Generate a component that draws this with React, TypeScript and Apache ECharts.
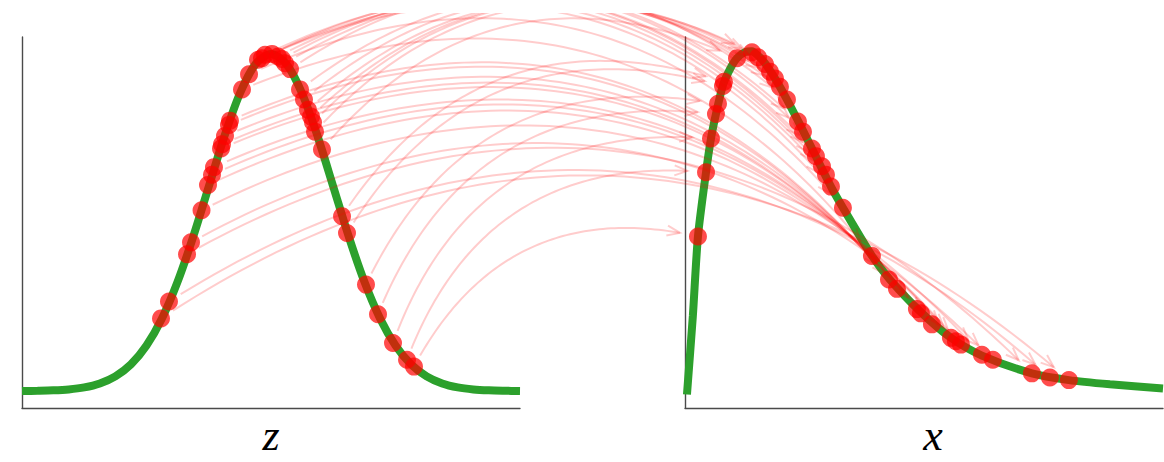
import React, { useEffect, useRef } from "react";
import * as echarts from "echarts";

// ---- left panel: density of z ----
const zGrid = [-4, -3.75, -3.5, -3.25, -3, -2.75, -2.5, -2.25, -2, -1.75, -1.5, -1.25, -1, -0.75, -0.5, -0.25, 0,
  0.25, 0.5, 0.75, 1, 1.25, 1.5, 1.75, 2, 2.25, 2.5, 2.75, 3, 3.25, 3.5, 3.75, 4];
const zDensity = [0.0001, 0.0004, 0.0009, 0.002, 0.0044, 0.0091, 0.0175, 0.0317, 0.054, 0.0863, 0.1295, 0.1826, 0.242,
  0.3011, 0.3521, 0.3867, 0.3989, 0.3867, 0.3521, 0.3011, 0.242, 0.1826, 0.1295, 0.0863, 0.054, 0.0317, 0.0175, 0.0091,
  0.0044, 0.002, 0.0009, 0.0004, 0.0001];

// ---- right panel: density of x ----
const xGrid = [0.03, 0.12, 0.198, 0.321, 0.397, 0.473, 0.58, 0.687, 0.794, 0.916, 1.023, 1.115, 1.221, 1.374, 1.557,
  1.725, 1.939, 2.229, 2.412, 2.855, 3.13, 3.588, 4.061, 4.534, 5.298, 5.863, 6.489, 7.3];
const xDensity = [-0.004, 0.089, 0.183, 0.259, 0.299, 0.328, 0.362, 0.381, 0.394, 0.401, 0.402, 0.397, 0.388, 0.37,
  0.345, 0.32, 0.287, 0.242, 0.217, 0.16, 0.132, 0.0945, 0.063, 0.042, 0.021, 0.013, 0.008, 0.003];

// ---- samples (z sorted ascending, x sorted ascending) ----
const zSamples = [-1.767, -1.639, -1.349, -1.285, -1.116, -1.012, -0.948, -0.916, -0.803, -0.787, -0.739, -0.675,
  -0.659, -0.466, -0.353, -0.209, -0.145, -0.096, 0.016, 0.112, 0.177, 0.225, 0.305, 0.466, 0.53, 0.594, 0.643, 0.675,
  0.707, 0.819, 1.141, 1.221, 1.526, 1.719, 1.96, 2.185, 2.297];
const zSampleDensity = [0.086, 0.106, 0.162, 0.176, 0.214, 0.244, 0.256, 0.265, 0.287, 0.292, 0.302, 0.315, 0.32,
  0.357, 0.375, 0.392, 0.394, 0.398, 0.399, 0.396, 0.393, 0.388, 0.381, 0.357, 0.345, 0.333, 0.325, 0.318, 0.307,
  0.286, 0.207, 0.187, 0.126, 0.091, 0.057, 0.037, 0.029];
const xSamples = [0.198, 0.321, 0.397, 0.473, 0.504, 0.58, 0.595, 0.794, 1.023, 1.115, 1.221, 1.298, 1.374, 1.45,
  1.557, 1.725, 1.802, 1.939, 2.0, 2.092, 2.153, 2.229, 2.412, 2.855, 3.115, 3.237, 3.542, 3.603, 3.771, 4.061, 4.137,
  4.214, 4.534, 4.702, 5.298, 5.573, 5.863];
const xSampleDensity = [0.183, 0.259, 0.299, 0.328, 0.34, 0.361, 0.366, 0.394, 0.401, 0.395, 0.387, 0.378, 0.37, 0.36,
  0.345, 0.319, 0.307, 0.287, 0.278, 0.266, 0.256, 0.242, 0.217, 0.16, 0.132, 0.121, 0.097, 0.092, 0.079, 0.063, 0.059,
  0.055, 0.043, 0.037, 0.021, 0.016, 0.013];

const axisNames = ["z", "x"];

const GREEN = "#2ca02c";
const SPINE = "#4a4a4a";
const ARROW = "rgba(255,0,0,0.2)";
const RAD = 0.38;
const SHRINK_A = 12;
const SHRINK_B = 18;
const HEAD_L = 13;
const HEAD_W = 5;

export default function App() {
  const ref = useRef<HTMLDivElement>(null);

  useEffect(() => {
    if (!ref.current) return;
    const chart = echarts.init(ref.current, null, { renderer: "svg" });
    const n = zSamples.length;
    const pairs = zSamples.map((z, i) => [z, zSampleDensity[i], xSamples[n - 1 - i], xSampleDensity[n - 1 - i]]);

    const renderArrow = (params: any, api: any) => {
      const s = api.coord([api.value(0), api.value(1)]);
      const e = chart.convertToPixel({ gridIndex: 1 } as any, [api.value(2), api.value(3)]) as any;
      if (!e || !s) return null;
      const dx = e[0] - s[0];
      const dy = e[1] - s[1];
      const cx = (s[0] + e[0]) / 2 + RAD * dy;
      const cy = (s[1] + e[1]) / 2 - RAD * dx;
      const B = (t: number) => {
        const u = 1 - t;
        return [u * u * s[0] + 2 * u * t * cx + t * t * e[0], u * u * s[1] + 2 * u * t * cy + t * t * e[1]];
      };
      const N = 400;
      let t0 = 0;
      let t1 = 1;
      for (let k = 0; k <= N; k++) {
        const t = k / N;
        const p = B(t);
        if (Math.hypot(p[0] - s[0], p[1] - s[1]) >= SHRINK_A) { t0 = t; break; }
      }
      for (let k = N; k >= 0; k--) {
        const t = k / N;
        const p = B(t);
        if (Math.hypot(p[0] - e[0], p[1] - e[1]) >= SHRINK_B) { t1 = t; break; }
      }
      const pts: number[][] = [];
      const M = 80;
      for (let k = 0; k <= M; k++) pts.push(B(t0 + ((t1 - t0) * k) / M));
      const tip = B(t1);
      const prev = B(t1 - 0.005);
      let ux = tip[0] - prev[0];
      let uy = tip[1] - prev[1];
      const len = Math.hypot(ux, uy) || 1;
      ux /= len;
      uy /= len;
      const nx = -uy;
      const ny = ux;
      const head = [
        [tip[0] - HEAD_L * ux + HEAD_W * nx, tip[1] - HEAD_L * uy + HEAD_W * ny],
        tip,
        [tip[0] - HEAD_L * ux - HEAD_W * nx, tip[1] - HEAD_L * uy - HEAD_W * ny],
      ];
      const style = { stroke: ARROW, lineWidth: 2, fill: null };
      return {
        type: "group",
        children: [
          { type: "polyline", shape: { points: pts }, style },
          { type: "polyline", shape: { points: head }, style },
        ],
      };
    };

    const nameStyle = {
      fontSize: 44,
      fontStyle: "italic",
      fontFamily: "Liberation Serif",
      color: "#000",
    };
    const hidden = { show: false };
    const line = { show: true, onZero: false, lineStyle: { color: SPINE, width: 1.4 } };

    chart.setOption({
      animation: false,
      grid: [
        { left: 22, top: 24, width: 498, height: 376 },
        { left: 685, top: 24, width: 478, height: 376 },
      ],
      xAxis: [
        {
          gridIndex: 0, type: "value", min: -4, max: 4, axisLine: line, axisTick: hidden, axisLabel: hidden,
          splitLine: hidden, name: axisNames[0], nameLocation: "middle", nameGap: 5, nameTextStyle: nameStyle,
        },
        {
          gridIndex: 1, type: "value", min: 0, max: 7.3, axisLine: line, axisTick: hidden, axisLabel: hidden,
          splitLine: hidden, name: axisNames[1], nameLocation: "middle", nameGap: 5,
          nameTextStyle: { ...nameStyle, padding: [0, 0, 0, 18] },
        },
      ],
      yAxis: [
        { gridIndex: 0, type: "value", min: -0.02, max: 0.419, axisLine: line, axisTick: hidden, axisLabel: hidden, splitLine: hidden },
        { gridIndex: 1, type: "value", min: -0.02, max: 0.419, axisLine: line, axisTick: hidden, axisLabel: hidden, splitLine: hidden },
      ],
      series: [
        {
          type: "line", xAxisIndex: 0, yAxisIndex: 0, data: zGrid.map((z, i) => [z, zDensity[i]]),
          showSymbol: false, smooth: 0.3, lineStyle: { color: GREEN, width: 8 }, z: 2, silent: true,
        },
        {
          type: "line", xAxisIndex: 1, yAxisIndex: 1, data: xGrid.map((x, i) => [x, xDensity[i]]),
          showSymbol: false, smooth: 0.25, lineStyle: { color: GREEN, width: 8 }, z: 2, silent: true,
        },
        {
          type: "scatter", xAxisIndex: 0, yAxisIndex: 0, data: zSamples.map((z, i) => [z, zSampleDensity[i]]),
          symbolSize: 18, itemStyle: { color: "#ff0000", opacity: 0.7 }, z: 3, silent: true,
        },
        {
          type: "scatter", xAxisIndex: 1, yAxisIndex: 1, data: xSamples.map((x, i) => [x, xSampleDensity[i]]),
          symbolSize: 18, itemStyle: { color: "#ff0000", opacity: 0.7 }, z: 3, silent: true,
        },
        {
          type: "custom", xAxisIndex: 0, yAxisIndex: 0, data: pairs, renderItem: renderArrow, clip: false,
          z: 4, silent: true,
        },
      ],
    });
    return () => chart.dispose();
  }, []);

  return (
    <div
      ref={ref}
      style={{ position: "absolute", left: 0, top: 13, width: 1164, height: 449, background: "#fff" }}
    />
  );
}
